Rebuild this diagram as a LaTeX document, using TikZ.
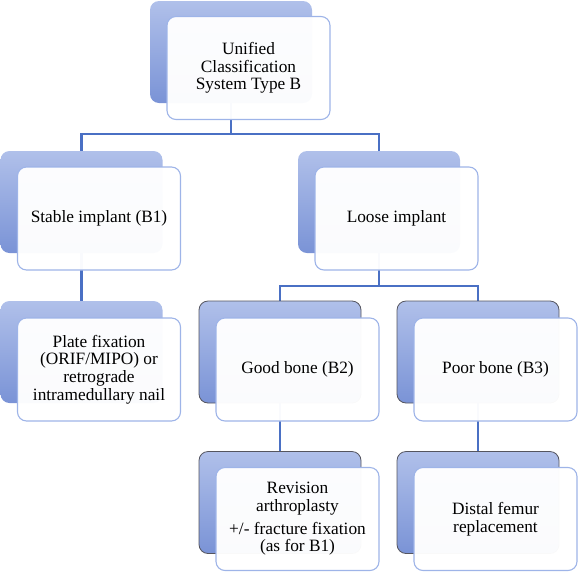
\documentclass[tikz,border=0pt]{standalone}
\usepackage{fontspec}
\setmainfont{Liberation Serif}
\definecolor{linkc}{RGB}{74,112,196}
\definecolor{backtop}{RGB}{176,192,234}
\definecolor{backbot}{RGB}{122,147,214}
\definecolor{frontbd}{RGB}{158,180,232}
\definecolor{darkbd}{RGB}{85,85,95}
\begin{document}
\begin{tikzpicture}[x=1pt,y=-1pt,
  backbox/.style={rectangle, rounded corners=9pt, minimum width=162pt, minimum height=102pt, inner sep=0pt,
     top color=backtop, bottom color=backbot, draw=none},
  backdark/.style={backbox, draw=darkbd, line width=0.8pt},
  frontbox/.style={rectangle, rounded corners=9pt, minimum width=163pt, minimum height=103pt, inner sep=2pt,
     fill=white, fill opacity=0.97, text opacity=1, draw=frontbd, draw opacity=1, line width=1.1pt, align=center,
     font=\fontsize{17.3}{17.6}\selectfont},
  link/.style={draw=linkc, line width=2.3pt}]
\useasboundingbox (0,0) rectangle (578,571);

% connectors (drawn first, behind boxes)
\coordinate (tB) at (231,52);
\coordinate (sB) at (81.5,202);
\coordinate (lB) at (379,202);
\coordinate (pB) at (81.5,352);
\coordinate (gB) at (280,352);
\coordinate (oB) at (478,352);
\coordinate (rB) at (280,502.5);
\coordinate (dB) at (478,502.5);

\draw[link] (tB) -- (231,134) -| (sB);
\draw[link] (231,134) -| (lB);
\draw[link] (sB) -- (pB);
\draw[link] (lB) -- (379,286) -| (gB);
\draw[link] (379,286) -| (oB);
\draw[link] (gB) -- (rB);
\draw[link] (oB) -- (dB);

% back boxes
\node[backbox] (top0) at (tB) {};
\node[backbox] (sta0) at (sB) {};
\node[backbox] (loo0) at (lB) {};
\node[backbox] (pla0) at (pB) {};
\node[backdark] (goo0) at (gB) {};
\node[backdark] (poo0) at (oB) {};
\node[backdark] (rev0) at (rB) {};
\node[backdark] (dis0) at (dB) {};

% front boxes
\node[frontbox] (top) at (248.5,68) {Unified\\Classification\\System Type B};
\node[frontbox] (sta) at (99,218.5) {Stable implant (B1)};
\node[frontbox] (loo) at (396.5,218.5) {Loose implant};
\node[frontbox] (pla) at (99,369.5) {Plate fixation\\(ORIF/MIPO) or\\retrograde\\intramedullary nail};
\node[frontbox] (goo) at (297.5,369.5) {Good bone (B2)};
\node[frontbox] (poo) at (495.5,369.5) {Poor bone (B3)};
\node[frontbox] (rev) at (297.5,519) {Revision\\arthroplasty\\[5pt]+/- fracture fixation\\(as for B1)};
\node[frontbox] (dis) at (495.5,519) {Distal femur\\replacement};
\end{tikzpicture}
\end{document}
